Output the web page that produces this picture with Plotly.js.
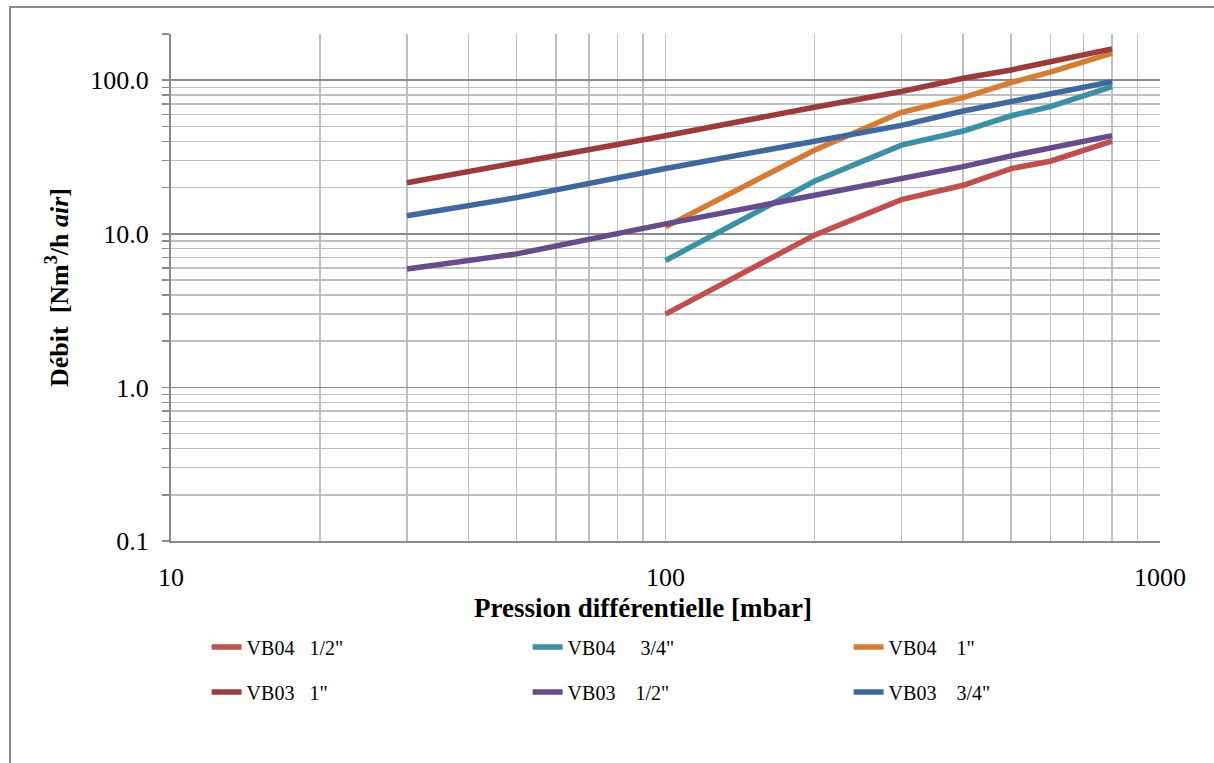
<!DOCTYPE html>
<html>
<head>
<meta charset="utf-8">
<script src="https://cdn.plot.ly/plotly-3.0.1.min.js"></script>
<style>
  html, body { margin: 0; padding: 0; background: #ffffff; }
  #frame { position: absolute; left: 9px; top: 6px; width: 1220px; height: 770px;
           border-left: 2px solid #8a8a8a; border-top: 2px solid #8a8a8a; box-sizing: border-box; }
  #chart { position: absolute; left: 0; top: 0; width: 1214px; height: 763px; }
</style>
</head>
<body>
<div id="frame"></div>
<div id="chart"></div>
<script>
// Pressure points (mbar)
const pressureVB03 = [30, 50, 100, 200, 300, 400, 500, 600, 800];
const pressureVB04 = [100, 200, 300, 400, 500, 600, 800];

// Flow (Nm3/h air)
const vb04_12 = [3.0, 9.8, 16.7, 20.7, 26.6, 29.7, 40.1];
const vb04_34 = [6.7, 22.0, 37.8, 46.7, 58.7, 67.3, 91.0];
const vb04_1  = [11.1, 35.0, 61.8, 77.0, 96.6, 113.0, 150.0];
const vb03_1  = [21.5, 29.0, 43.5, 66.7, 84.4, 103.0, 116.7, 132.0, 160.0];
const vb03_12 = [5.9, 7.4, 11.6, 17.8, 22.9, 27.4, 32.2, 36.0, 43.6];
const vb03_34 = [13.1, 17.2, 26.6, 40.5, 50.8, 63.0, 72.9, 82.0, 98.0];

const names = [
  'VB04&nbsp;&nbsp;&nbsp;1/2"', 'VB04&nbsp;&nbsp;&nbsp;&nbsp;&nbsp;3/4"', 'VB04&nbsp;&nbsp;&nbsp;&nbsp;1"',
  'VB03&nbsp;&nbsp;&nbsp;1"', 'VB03&nbsp;&nbsp;&nbsp;&nbsp;1/2"', 'VB03&nbsp;&nbsp;&nbsp;&nbsp;3/4"'
];
const colors = ['#C0504D', '#3A90A6', '#D47C35', '#9B3B3A', '#664C8A', '#3E689E'];

function tr(x, y, i, leg) {
  return { x: x, y: y, name: names[i], type: 'scatter', mode: 'lines',
           line: { color: colors[i], width: 5.5 }, legend: leg, hoverinfo: 'x+y+name' };
}

const data = [
  tr(pressureVB04, vb04_12, 0, 'legend'),
  tr(pressureVB04, vb04_34, 1, 'legend'),
  tr(pressureVB04, vb04_1, 2, 'legend'),
  tr(pressureVB03, vb03_1, 3, 'legend2'),
  tr(pressureVB03, vb03_12, 4, 'legend2'),
  tr(pressureVB03, vb03_34, 5, 'legend2')
];

const serif = 'Liberation Serif, DejaVu Serif, serif';
const legendCommon = {
  orientation: 'h', xanchor: 'left', yanchor: 'middle',
  entrywidth: 276, entrywidthmode: 'pixels',
  font: { family: serif, size: 20, color: '#000' },
  bgcolor: 'rgba(0,0,0,0)', borderwidth: 0, itemwidth: 30
};

const layout = {
  width: 1214, height: 763,
  margin: { l: 171, r: 54, t: 34, b: 222 },
  paper_bgcolor: 'rgba(0,0,0,0)', plot_bgcolor: '#ffffff',
  showlegend: true,
  font: { family: serif, color: '#000' },
  xaxis: {
    type: 'log', range: [1, 3], dtick: 1,
    showgrid: true, gridcolor: '#bfbfbf', gridwidth: 1.5,
    minor: { dtick: 'D1', showgrid: true, gridcolor: '#bfbfbf', gridwidth: 1.5, ticks: '' },
    showline: true, linecolor: '#8a8a8a', linewidth: 2,
    ticks: '', ticklabelstandoff: 12,
    tickfont: { family: serif, size: 26, color: '#000' },
    zeroline: false
  },
  yaxis: {
    type: 'log', range: [-1, Math.log10(200)], dtick: 1, tickformat: '.1f',
    showgrid: true, gridcolor: '#8a8a8a', gridwidth: 1.5,
    minor: { dtick: 'D1', showgrid: true, gridcolor: '#bfbfbf', gridwidth: 1.5,
             ticks: 'outside', ticklen: 7, tickcolor: '#8a8a8a', tickwidth: 1.5 },
    showline: true, linecolor: '#8a8a8a', linewidth: 2,
    ticks: 'outside', ticklen: 7, tickcolor: '#8a8a8a', tickwidth: 1.5,
    ticklabelstandoff: 8,
    tickfont: { family: serif, size: 26, color: '#000' },
    title: { text: 'Débit&nbsp;&nbsp;[Nm<sup>3</sup>/h <i>air</i>]',
             font: { family: serif, size: 26, color: '#000', weight: 'bold' }, standoff: 14 },
    zeroline: false
  },
  annotations: [{
    text: '<b>Pression différentielle [mbar]</b>',
    xref: 'paper', yref: 'paper', x: 0.477, y: -0.132, xanchor: 'center', yanchor: 'middle',
    showarrow: false, font: { family: serif, size: 27, color: '#000' }
  }],
  legend: Object.assign({}, legendCommon, { x: 0.036, y: -0.209 }),
  legend2: Object.assign({}, legendCommon, { x: 0.036, y: -0.298 })
};

Plotly.newPlot('chart', data, layout, { displayModeBar: false, staticPlot: true });
</script>
</body>
</html>
